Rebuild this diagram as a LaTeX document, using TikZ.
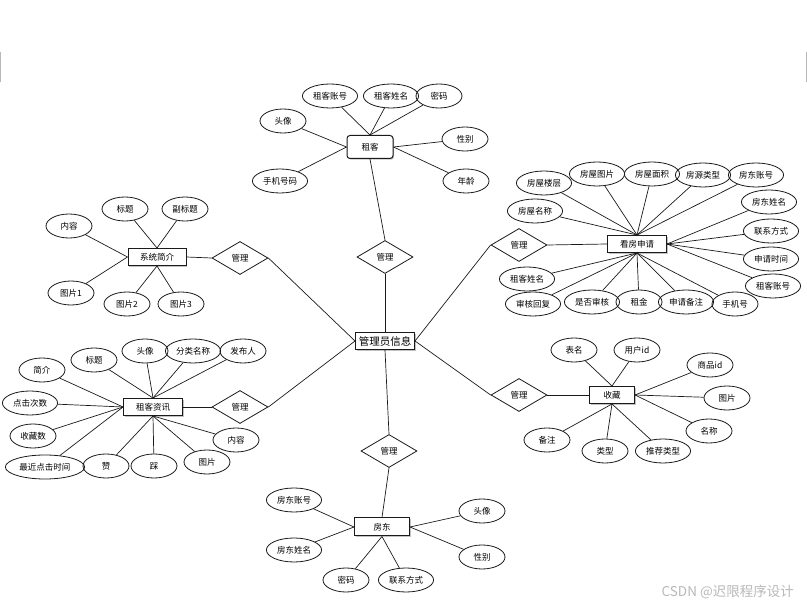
\documentclass[tikz,border=0pt]{standalone}
\usepackage{fontspec}
\setmainfont{Liberation Sans}
\newfontfamily\cjk{Noto Sans CJK SC}
\usepackage{xcolor}
\definecolor{cLine}{HTML}{1A1A1A}
\definecolor{cShadow}{HTML}{9A9A9A}
\definecolor{cMark}{HTML}{B8B8B8}
\usetikzlibrary{shapes.geometric,shadows}
\tikzset{
  node-attr/.style={draw=cLine,ellipse,line width=0.8pt,minimum width=46pt,
    minimum height=24pt,inner xsep=2.5pt,inner ysep=1pt,
    font=\cjk\fontsize{8.5}{9}\selectfont},
  node-box/.style={draw=cLine,fill=white,line width=1pt,minimum width=58pt,
    minimum height=17pt,inner sep=2pt,font=\cjk\fontsize{8.5}{9}\selectfont,
    drop shadow={shadow xshift=1.2pt,shadow yshift=-1.2pt,fill=cShadow,opacity=0.6}},
  node-rel/.style={draw=cLine,diamond,fill=white,line width=0.8pt,
    minimum width=56pt,minimum height=33pt,inner sep=0pt,
    font=\cjk\fontsize{8.5}{9}\selectfont},
  link/.style={draw=cLine,line width=0.7pt},
}
\begin{document}
\begin{tikzpicture}[x=1pt,y=-1pt]
  \useasboundingbox (0,0) rectangle (807,609);
  % page edge marks
  \draw[cMark,line width=0.5pt] (0.5,52) -- (0.5,82);
  \draw[cMark,line width=0.5pt] (806.5,52) -- (806.5,82);

  % centre and relations
  \node[node-box,minimum width=59pt,font=\cjk\fontsize{10.5}{11}\selectfont] (admin) at (385,341) {管理员信息};
  \node[node-rel] (rel-tenant) at (385,257) {管理};
  \node[node-rel] (rel-landlord) at (389,451) {管理};
  \node[node-rel] (rel-intro) at (240,258) {管理};
  \node[node-rel] (rel-view) at (519,245) {管理};
  \node[node-rel] (rel-news) at (240,407) {管理};
  \node[node-rel] (rel-favor) at (519,395) {管理};

  % entities
  \node[node-box,rounded corners=3pt,minimum width=46pt,minimum height=23pt] (tenant) at (370,147) {租客};
  \node[node-box,minimum width=59pt] (viewing) at (637,244) {看房申请};
  \node[node-box] (intro) at (157,257) {系统简介};
  \node[node-box,minimum width=59pt] (news) at (153,407) {租客资讯};
  \node[node-box,minimum width=45pt] (favor) at (612,395) {收藏};
  \node[node-box,minimum width=55pt,minimum height=18pt] (landlord) at (382,527) {房东};

  \draw[link] (rel-tenant.south) -- (admin.north);
  \draw[link] (admin.south) -- (rel-landlord.north);
  \draw[link] (rel-intro.east) -- (admin.west);
  \draw[link] (rel-news.east) -- (admin.west);
  \draw[link] (admin.east) -- (rel-view.west);
  \draw[link] (admin.east) -- (rel-favor.west);
  \draw[link] (tenant.south) -- (rel-tenant.north);
  \draw[link] (landlord.north) -- (rel-landlord.south);
  \draw[link] (intro.east) -- (rel-intro.west);
  \draw[link] (news.east) -- (rel-news.west);
  \draw[link] (rel-view.east) -- (viewing.west);
  \draw[link] (rel-favor.east) -- (favor.west);

  % attributes: x/y/text/anchor of entity
  \foreach \x/\y/\t/\a [count=\i] in {330/96/租客账号/north, 391/96/租客姓名/north,
      439/96/密码/north, 283/121/头像/west, 465/139/性别/east,
      280/181/手机号码/west, 466/181/年龄/east} {
    \node[node-attr] (tenant-\i) at (\x,\y) {\t};
    \draw[link] (tenant-\i) -- (tenant.\a);
  }
  \foreach \x/\y/\t/\a [count=\i] in {544/183/房屋楼层/north, 597/174/房屋图片/north,
      652/174/房屋面积/north, 703/175/房源类型/north, 756/175/房东账号/north,
      535/211/房屋名称/north, 769/202/房东姓名/east, 771/231/联系方式/east,
      771/259/申请时间/east, 773/286/租客账号/east, 527/279/租客姓名/south,
      533/304/审核回复/south, 592/302/是否审核/south, 639/302/租金/south,
      686/302/申请备注/south, 735/304/手机号/south} {
    \node[node-attr] (viewing-\i) at (\x,\y) {\t};
    \draw[link] (viewing-\i) -- (viewing.\a);
  }
  \foreach \x/\y/\t/\a [count=\i] in {125/209/标题/north, 185/209/副标题/north,
      69/226/内容/west, 71/293/图片1/west, 127/304/图片2/south, 181/304/图片3/south} {
    \node[node-attr] (intro-\i) at (\x,\y) {\t};
    \draw[link] (intro-\i) -- (intro.\a);
  }
  \foreach \x/\y/\t/\a [count=\i] in {42/370/简介/west, 94/360/标题/north,
      145/351/头像/north, 193/351/分类名称/north, 243/351/发布人/north,
      30/403/点击次数/west, 33/436/收藏数/west, 45/467/最近点击时间/west,
      106/466/赞/south, 154/466/踩/south, 207/462/图片/south, 236/440/内容/south} {
    \node[node-attr] (news-\i) at (\x,\y) {\t};
    \draw[link] (news-\i) -- (news.\a);
  }
  \foreach \x/\y/\t/\a [count=\i] in {574/350/表名/north, 637/350/用户id/north,
      710/365/商品id/east, 727/398/图片/east, 709/431/名称/east,
      547/440/备注/south, 605/451/类型/south, 663/451/推荐类型/south} {
    \node[node-attr] (favor-\i) at (\x,\y) {\t};
    \draw[link] (favor-\i) -- (favor.\a);
  }
  \foreach \x/\y/\t/\a [count=\i] in {294/500/房东账号/west, 294/550/房东姓名/west,
      346/580/密码/south, 406/580/联系方式/south, 482/511/头像/east, 482/557/性别/east} {
    \node[node-attr] (landlord-\i) at (\x,\y) {\t};
    \draw[link] (landlord-\i) -- (landlord.\a);
  }

  % watermark
  \node[anchor=east,text=cMark,inner sep=0pt,font=\cjk\fontsize{13.5}{14}\selectfont] (mark) at (794,592) {CSDN @迟限程序设计};
\end{tikzpicture}
\end{document}
